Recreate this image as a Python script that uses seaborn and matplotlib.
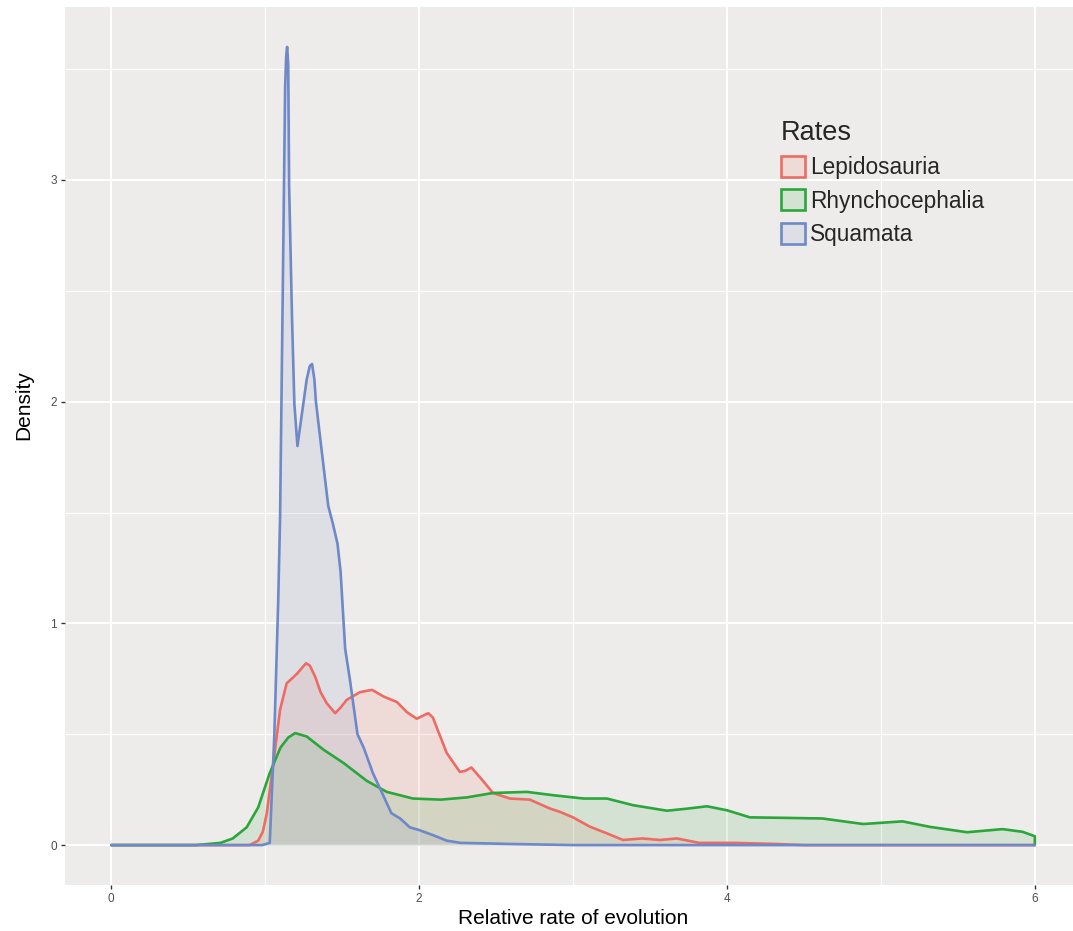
import numpy as np
import pandas as pd
import seaborn as sns
import matplotlib
matplotlib.use("Agg")
import matplotlib.pyplot as plt
from matplotlib.patches import Patch
from matplotlib.ticker import MultipleLocator

# Kernel density estimates of relative evolutionary rate, per clade
lepido_x = [0, 0.9, 0.955, 0.985, 1.01, 1.05, 1.097, 1.14, 1.18, 1.21, 1.24, 1.266, 1.29,
            1.325, 1.36, 1.40, 1.455, 1.49, 1.53, 1.617, 1.695, 1.77, 1.857, 1.92, 1.985,
            2.03, 2.06, 2.09, 2.115, 2.18, 2.265, 2.30, 2.34, 2.415, 2.48, 2.59, 2.72,
            2.85, 2.915, 3.0, 3.11, 3.22, 3.325, 3.45, 3.565, 3.675, 3.82, 4.04, 4.32,
            4.5, 6.0]
lepido_y = [0, 0, 0.02, 0.06, 0.14, 0.35, 0.61, 0.73, 0.755, 0.775, 0.80, 0.82, 0.81,
            0.76, 0.69, 0.64, 0.595, 0.62, 0.655, 0.69, 0.70, 0.67, 0.645, 0.60, 0.57,
            0.585, 0.595, 0.575, 0.53, 0.415, 0.33, 0.335, 0.35, 0.29, 0.235, 0.21, 0.205,
            0.165, 0.15, 0.125, 0.083, 0.053, 0.023, 0.03, 0.023, 0.03, 0.01, 0.01, 0.005,
            0, 0]

rhyncho_x = [0, 0.55, 0.71, 0.79, 0.88, 0.955, 1.03, 1.10, 1.15, 1.195, 1.27, 1.38,
             1.51, 1.66, 1.79, 1.96, 2.14, 2.31, 2.48, 2.70, 2.87, 3.07, 3.22, 3.39,
             3.61, 3.75, 3.87, 4.0, 4.15, 4.36, 4.62, 4.885, 5.14, 5.32, 5.56, 5.79,
             5.92, 6.0, 6.0]
rhyncho_y = [0, 0, 0.01, 0.03, 0.08, 0.17, 0.325, 0.44, 0.485, 0.505, 0.49, 0.43,
             0.37, 0.29, 0.24, 0.21, 0.205, 0.215, 0.235, 0.24, 0.225, 0.21, 0.21, 0.18,
             0.155, 0.165, 0.175, 0.157, 0.125, 0.123, 0.12, 0.095, 0.107, 0.082, 0.058,
             0.072, 0.06, 0.04, 0]

squam_x = [0, 0.98, 1.03, 1.06, 1.085, 1.097, 1.115, 1.13, 1.137, 1.143, 1.15, 1.156,
           1.175, 1.19, 1.21, 1.24, 1.27, 1.29, 1.305, 1.32, 1.33, 1.357, 1.41, 1.44,
           1.47, 1.49, 1.52, 1.55, 1.60, 1.64, 1.70, 1.76, 1.82, 1.877, 1.94, 2.0,
           2.09, 2.18, 2.27, 2.6, 3.0, 6.0]
squam_y = [0, 0, 0.01, 0.5, 1.1, 1.47, 2.52, 3.42, 3.56, 3.60, 3.52, 2.97,
           2.37, 1.99, 1.80, 1.95, 2.10, 2.16, 2.17, 2.10, 2.0, 1.84, 1.53, 1.45,
           1.36, 1.235, 0.885, 0.75, 0.50, 0.44, 0.325, 0.235, 0.144, 0.12, 0.08, 0.068,
           0.045, 0.02, 0.01, 0.005, 0, 0]

groups = ["Lepidosauria", "Rhynchocephalia", "Squamata"]
colors = {"Lepidosauria": "#EE6B63", "Rhynchocephalia": "#2AA63A", "Squamata": "#6E88C8"}

frames = []
for name, xs, ys in [("Lepidosauria", lepido_x, lepido_y),
                     ("Rhynchocephalia", rhyncho_x, rhyncho_y),
                     ("Squamata", squam_x, squam_y)]:
    frames.append(pd.DataFrame({"rate": xs, "density": ys, "Rates": name}))
df = pd.concat(frames, ignore_index=True)

sns.set_theme(style="darkgrid", rc={
    "axes.facecolor": "#EEECEA",
    "figure.facecolor": "white",
    "grid.color": "white",
})
plt.rcParams["font.family"] = ["Liberation Sans", "DejaVu Sans"]

fig = plt.figure(figsize=(10.73, 9.31), dpi=100)
W, H = 1073, 931
left, right, top, bottom = 65, 1081, 7, 885
ax = fig.add_axes([left / W, 1 - bottom / H, (right - left) / W, (bottom - top) / H])

for name in groups:
    sub = df[df["Rates"] == name]
    ax.fill_between(sub["rate"], sub["density"], 0, color=colors[name], alpha=0.13,
                    linewidth=0, zorder=2)
    sns.lineplot(data=sub, x="rate", y="density", color=colors[name], sort=False,
                 estimator=None, linewidth=1.9, ax=ax, zorder=3,
                 solid_joinstyle="round", solid_capstyle="round")

ax.set_xlim(-0.3, 6.3)
ax.set_ylim(-0.18, 3.78)
ax.xaxis.set_major_locator(MultipleLocator(2))
ax.xaxis.set_minor_locator(MultipleLocator(1))
ax.yaxis.set_major_locator(MultipleLocator(1))
ax.yaxis.set_minor_locator(MultipleLocator(0.5))
ax.grid(which="major", color="white", linewidth=1.4)
ax.grid(which="minor", color="white", linewidth=0.8)
ax.set_axisbelow(True)
for s in ax.spines.values():
    s.set_visible(False)

ax.tick_params(axis="both", which="major", length=3, width=1, color="#333333",
               labelcolor="#4D4D4D", labelsize=8.5, pad=3, bottom=True, left=True)
ax.tick_params(axis="both", which="minor", length=0)

ax.set_xlabel("Relative rate of evolution", fontsize=15, color="black", labelpad=3)
ax.set_ylabel("Density", fontsize=15, color="black")
ax.yaxis.set_label_coords(-0.031, 0.547)

handles = [Patch(facecolor=matplotlib.colors.to_rgba(colors[g], 0.13),
                 edgecolor=colors[g], linewidth=1.9, label=g) for g in groups]
leg = fig.legend(handles=handles, title="Rates", loc="upper left",
                 bbox_to_anchor=(765 / W, 1 - 104 / H), frameon=False,
                 fontsize=16.3, title_fontsize=19.5, handlelength=1.05, handleheight=1.05,
                 handletextpad=0.25, labelspacing=0.45, borderpad=0.2)
leg._legend_box.align = "left"

fig.savefig("out.png", dpi=100)
